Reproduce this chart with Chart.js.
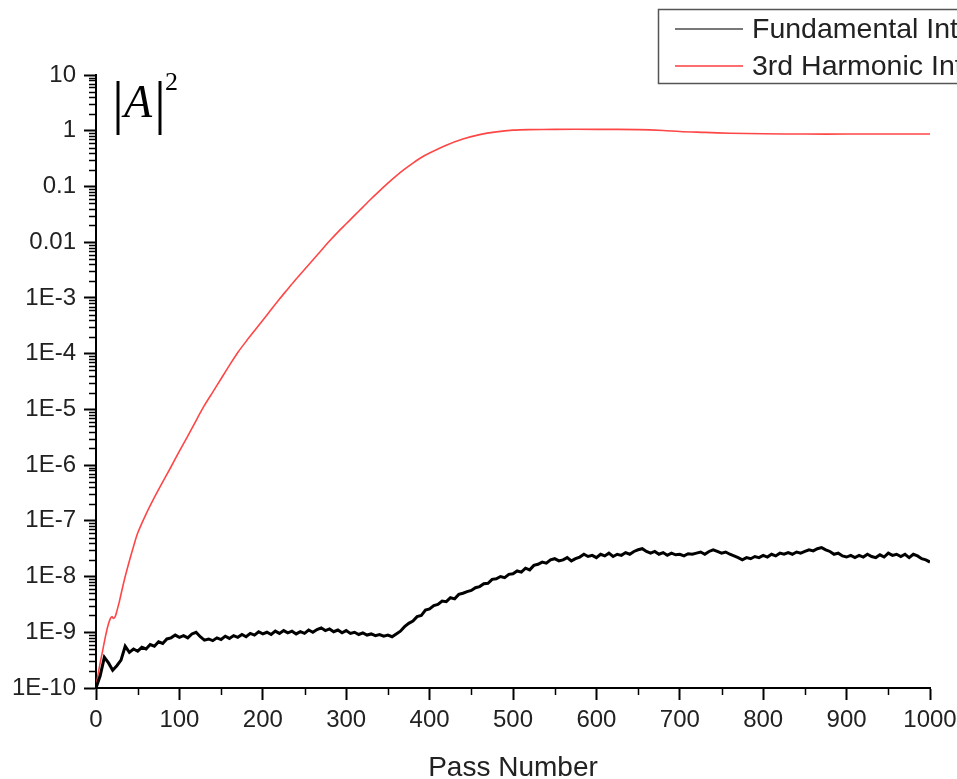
<!DOCTYPE html>
<html>
<head>
<meta charset="utf-8">
<script src="https://cdn.jsdelivr.net/npm/chart.js@4.4.1/dist/chart.umd.min.js"></script>
<style>
  body { margin: 0; background: #fff; }
  #myChart { display: block; }
</style>
</head>
<body>
<canvas id="myChart" width="957" height="779"></canvas>
<script>
// y values are stored as log10(|A|^2)
const seriesNames = ['Fundamental Intensity', '3rd Harmonic Intensity'];

const redPass = [0, 2, 5, 8, 11, 14, 17, 19, 21, 23, 25, 28, 31, 35, 40, 45, 50, 60, 70, 80, 90,
  100, 110, 120, 130, 140, 150, 160, 170, 180, 190, 200, 210, 220, 230, 240, 250, 260, 270, 280, 290,
  300, 310, 320, 330, 340, 350, 360, 370, 380, 390, 400, 420, 440, 460, 480, 500, 520, 550, 600, 650,
  680, 700, 730, 760, 800, 850, 900, 950, 1000];
const redExp = [-10, -9.8, -9.55, -9.33, -9.1, -8.9, -8.76, -8.72, -8.75, -8.72, -8.62, -8.45, -8.25, -8.0, -7.72, -7.46, -7.22, -6.88, -6.58, -6.3, -6.03,
  -5.75, -5.48, -5.2, -4.93, -4.69, -4.45, -4.21, -3.98, -3.78, -3.59, -3.4, -3.21, -3.02, -2.84, -2.66, -2.49, -2.32, -2.15, -1.98, -1.82,
  -1.67, -1.52, -1.37, -1.22, -1.08, -0.94, -0.81, -0.69, -0.58, -0.48, -0.4, -0.26, -0.15, -0.07, -0.02, 0.01, 0.02, 0.025, 0.025, 0.02,
  0.005, -0.015, -0.03, -0.045, -0.055, -0.06, -0.06, -0.06, -0.06];

// fundamental sampled every 5 passes
const fundPass = Array.from({ length: 201 }, (_, i) => i * 5);
const fundExp = [
  -10.0, -9.78, -9.45, -9.55, -9.68, -9.6, -9.5, -9.25, -9.36, -9.3,
  -9.34, -9.27, -9.3, -9.22, -9.25, -9.17, -9.2, -9.12, -9.1, -9.05,
  -9.09, -9.06, -9.1, -9.03, -9.0, -9.08, -9.14, -9.12, -9.15, -9.1,
  -9.13, -9.07, -9.11, -9.06, -9.09, -9.04, -9.08, -9.02, -9.05, -8.99,
  -9.03, -9.0, -9.04, -8.98, -9.02, -8.97, -9.01, -8.98, -9.03, -8.99,
  -9.02, -8.96, -9.0, -8.95, -8.92, -8.97, -8.94, -8.99, -8.96, -9.01,
  -8.97, -9.02, -9.0, -9.04, -9.01, -9.05, -9.03, -9.06, -9.04, -9.07,
  -9.05, -9.08, -9.03, -8.98, -8.9, -8.84, -8.8, -8.72, -8.7, -8.6,
  -8.58, -8.52, -8.5, -8.44, -8.45, -8.38, -8.4, -8.32, -8.3, -8.27,
  -8.25, -8.2, -8.18, -8.13, -8.12, -8.05, -8.04, -8.0, -8.02, -7.96,
  -7.95, -7.9, -7.92, -7.85, -7.88, -7.8, -7.78, -7.74, -7.76, -7.7,
  -7.68, -7.72, -7.7, -7.66, -7.72, -7.68, -7.65, -7.6, -7.64, -7.62,
  -7.66, -7.6, -7.63, -7.58, -7.64, -7.6, -7.62, -7.57, -7.6, -7.55,
  -7.52, -7.5, -7.55, -7.58, -7.55, -7.6, -7.57, -7.62, -7.58, -7.61,
  -7.6, -7.63, -7.59, -7.6, -7.58, -7.56, -7.6, -7.55, -7.52, -7.55,
  -7.58, -7.56, -7.6, -7.63, -7.66, -7.7, -7.66, -7.68, -7.64, -7.66,
  -7.62, -7.65, -7.6, -7.63, -7.58, -7.6, -7.57, -7.6, -7.56, -7.58,
  -7.55, -7.52, -7.54, -7.5, -7.48, -7.52, -7.55, -7.6, -7.58, -7.63,
  -7.65, -7.62, -7.66, -7.62, -7.65, -7.6, -7.64, -7.66, -7.61, -7.65,
  -7.58, -7.62, -7.6, -7.64, -7.6, -7.66, -7.6, -7.63, -7.68, -7.7,
  -7.74];

const xTicks = [0, 100, 200, 300, 400, 500, 600, 700, 800, 900, 1000];
const yTickVals = [1e-10, 1e-9, 1e-8, 1e-7, 1e-6, 1e-5, 1e-4, 1e-3, 0.01, 0.1, 1, 10];
const yTickLabels = ['1E-10', '1E-9', '1E-8', '1E-7', '1E-6', '1E-5', '1E-4', '1E-3', '0.01', '0.1', '1', '10'];

const tickFont = { family: 'Liberation Sans, Arial, sans-serif', size: 24 };

const extras = {
  id: 'extras',
  afterDraw(chart) {
    const ctx = chart.ctx;
    const xs = chart.scales.x, ys = chart.scales.y;
    const area = chart.chartArea;
    ctx.save();
    ctx.strokeStyle = '#000';
    ctx.lineWidth = 1.5;
    // minor ticks
    for (let d = -10; d < 1; d++) {
      for (let m = 2; m <= 9; m++) {
        const py = Math.round(ys.getPixelForValue(m * Math.pow(10, d))) + 0.5;
        ctx.beginPath();
        ctx.moveTo(area.left - 7, py);
        ctx.lineTo(area.left, py);
        ctx.stroke();
      }
    }
    for (let v = 50; v < 1000; v += 100) {
      const px = Math.round(xs.getPixelForValue(v)) + 0.5;
      ctx.beginPath();
      ctx.moveTo(px, area.bottom);
      ctx.lineTo(px, area.bottom + 7);
      ctx.stroke();
    }

    // |A|^2 label
    ctx.fillStyle = '#000';
    ctx.textBaseline = 'alphabetic';
    ctx.font = '60px "Liberation Serif", serif';
    ctx.fillText('|', 112, 122);
    ctx.fillText('|', 154, 122);
    ctx.font = 'italic 46px "Liberation Serif", serif';
    ctx.fillText('A', 124, 117);
    ctx.font = '26px "Liberation Serif", serif';
    ctx.fillText('2', 165, 90);

    // legend box
    ctx.strokeStyle = '#555';
    ctx.lineWidth = 1.5;
    ctx.strokeRect(658.5, 9.5, 400, 74);
    const ds = chart.data.datasets;
    const rows = [29, 66];
    const sampleColors = ['rgb(120,120,120)', 'rgb(255,110,110)'];
    ctx.font = '28.5px "Liberation Sans", Arial, sans-serif';
    ctx.textBaseline = 'middle';
    ds.forEach((d, i) => {
      ctx.strokeStyle = sampleColors[i];
      ctx.lineWidth = 2;
      ctx.beginPath();
      ctx.moveTo(675, rows[i]);
      ctx.lineTo(743, rows[i]);
      ctx.stroke();
      ctx.fillStyle = '#222';
      ctx.fillText(d.label, 752, rows[i] + 1);
    });
    ctx.restore();
  }
};

const data = {
  datasets: [{
    label: seriesNames[0],
    data: fundPass.map((p, i) => ({ x: p, y: Math.pow(10, fundExp[i]) })),
    borderColor: '#000',
    borderWidth: 3,
    pointRadius: 0,
    tension: 0,
    order: 1
  },
  {
    label: seriesNames[1],
    data: redPass.map((p, i) => ({ x: p, y: Math.pow(10, redExp[i]) })),
    borderColor: 'rgb(255, 70, 70)',
    borderWidth: 1.6,
    pointRadius: 0,
    tension: 0.3,
    order: 2
  }]
};

const config = {
  type: 'line',
  data: data,
  options: {
    responsive: false,
    animation: false,
    layout: { padding: { left: 0, right: 0, top: 75, bottom: 0 } },
    plugins: { legend: { display: false }, tooltip: { enabled: false } },
    scales: {
      x: {
        type: 'linear',
        min: 0,
        max: 1000,
        afterBuildTicks: (s) => { s.ticks = xTicks.map(v => ({ value: v })); },
        afterFit: (s) => { s.height = 91; s.paddingRight = 27; s.paddingLeft = 0; },
        grid: { drawOnChartArea: false, drawTicks: true, tickLength: 12, tickWidth: 2, tickColor: '#000' },
        border: { display: true, color: '#000', width: 2 },
        ticks: {
          font: tickFont,
          color: '#222',
          padding: 6,
          maxRotation: 0,
          callback: (value) => String(value)
        },
        title: {
          display: true,
          text: 'Pass Number',
          font: { family: 'Liberation Sans, Arial, sans-serif', size: 28 },
          color: '#222',
          padding: { top: 0, bottom: -6 }
        }
      },
      y: {
        type: 'logarithmic',
        min: 1e-10,
        max: 10,
        afterBuildTicks: (s) => { s.ticks = yTickVals.map(v => ({ value: v })); },
        afterFit: (s) => { s.width = 96; },
        grid: { drawOnChartArea: false, drawTicks: true, tickLength: 12, tickWidth: 2, tickColor: '#000' },
        border: { display: true, color: '#000', width: 2 },
        ticks: {
          font: tickFont,
          color: '#222',
          padding: 8,
          callback: function(value) {
            const i = yTickVals.findIndex(v => Math.abs(Math.log10(v) - Math.log10(value)) < 1e-6);
            return i >= 0 ? yTickLabels[i] : '';
          }
        }
      }
    }
  },
  plugins: [extras]
};

var myChart = new Chart(document.getElementById('myChart'), config);
</script>
</body>
</html>
